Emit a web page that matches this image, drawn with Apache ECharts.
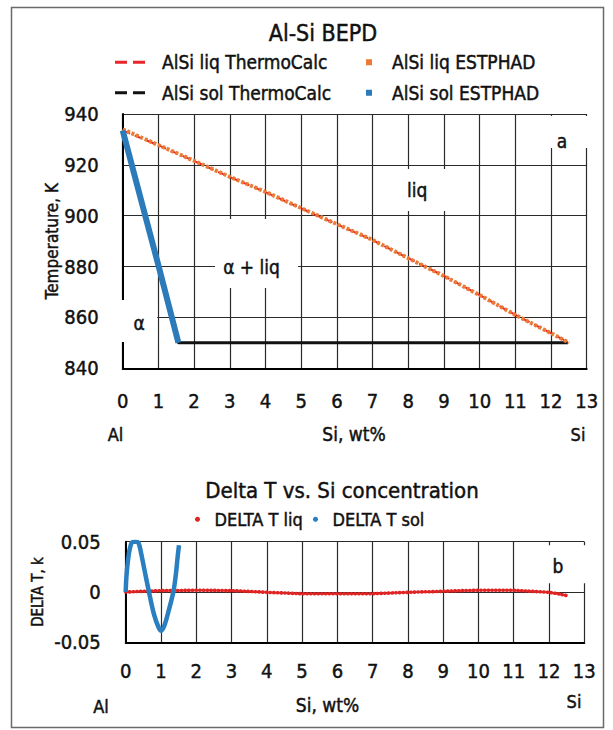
<!DOCTYPE html>
<html><head><meta charset="utf-8">
<script src="https://cdn.jsdelivr.net/npm/echarts@6/dist/echarts.min.js"></script>
<style>html,body{margin:0;padding:0;background:#fff}#c{width:613px;height:730px}</style>
</head><body><div id="c"></div>
<script>
// ---- data ----
const liqX      = [0, 1, 2, 3, 4, 5, 6, 7, 8, 9, 10, 11, 12, 12.5];
const liqEST    = [934.0, 927.8, 921.6, 915.3, 909.4, 903.0, 896.7, 890.5, 883.3, 876.3, 868.8, 861.0, 853.8, 850.1];
const liqTC     = [933.5, 927.7, 921.5, 915.2, 909.3, 902.9, 896.6, 890.4, 883.3, 876.3, 868.8, 861.0, 853.8, 850.1];
const solESTX   = [0, 0.5, 1.0, 1.56];
const solEST    = [933.5, 907, 880.5, 850];
const solTCX    = [0, 0.5, 1.0, 1.56, 12.47];
const solTC     = [933.5, 907, 880.5, 850, 850];

const dLiqX = [0,0.5,1,1.5,2,2.5,3,3.5,4,4.5,5,5.5,6,6.5,7,7.5,8,8.5,9,9.5,10,10.5,11,11.5,12,12.3,12.5];
const dLiq  = [0,0.0007,0.0013,0.0015,0.0017,0.0016,0.0013,0.0006,-0.0003,-0.001,-0.0017,-0.0017,-0.0017,-0.0017,-0.0017,-0.001,-0.0003,0.0002,0.0007,0.0013,0.0017,0.0018,0.0017,0.0007,-0.0003,-0.002,-0.0036];
const dSolX = [0,0.02,0.06,0.11,0.17,0.26,0.36,0.44,0.52,0.66,0.8,0.93,1.01,1.1,1.2,1.35,1.42,1.47,1.51];
const dSol  = [0,0.015,0.03,0.042,0.049,0.05,0.049,0.038,0.024,0,-0.022,-0.035,-0.0385,-0.033,-0.021,0,0.017,0.034,0.0465];

const siTicks = {min: 0, max: 13, step: 1};
const tTicks  = {min: 840, max: 940, step: 20};
const dTicks  = {min: -0.05, max: 0.05, step: 0.05};

// ---- helpers ----
const zip = (xs, ys) => xs.map((x, i) => [x, ys[i]]);
const FONT = "'Liberation Sans Narrow','DejaVu Sans Condensed',sans-serif";
const TXT = '#111';
const GRID = '#2a2a2a';
const BOLDISH = {textBorderColor: '#111', textBorderWidth: 0.45};

const dashIcon = 'path://M0,0h0.01v0.01h-0.01z M42,12h-0.01v-0.01h0.01z M0,4.5h12v3h-12z M18,4.5h12v3h-12z';
const sqIcon = 'path://M0,0h0.01v0.01h-0.01z M24,12h-0.01v-0.01h0.01z M3,3h6v6h-6z';

function ts(size) { return Object.assign({fontSize: size, color: TXT, fontFamily: FONT}, BOLDISH); }
function xAx(gi, margin) {
  return {
    type: 'value', gridIndex: gi, min: siTicks.min, max: siTicks.max, interval: siTicks.step,
    axisLine: {show: true, onZero: false, lineStyle: {color: '#000', width: 2}},
    axisTick: {show: false},
    axisLabel: Object.assign({margin: margin}, ts(20)),
    splitLine: {show: true, lineStyle: {color: GRID, width: 1.2}}
  };
}
function box(x, y, w, h, text, off) {
  return {
    coord: [x, y], symbol: 'rect', symbolSize: [w, h],
    itemStyle: {color: '#fff'},
    label: Object.assign({show: true, formatter: text, offset: off}, ts(19))
  };
}
function textG(x, y, s, size) {
  return {type: 'text', x: x, y: y, z: 10,
    style: {text: s, align: 'center', verticalAlign: 'middle', fontSize: size, fontFamily: FONT, fill: TXT,
            stroke: '#111', lineWidth: 0.45}};
}

const chart = echarts.init(document.getElementById('c'), null, {renderer: 'svg'});
chart.setOption({
  animation: false,
  backgroundColor: '#fff',
  grid: [
    {left: 122.7, right: 26.3, top: 114, height: 254.3},
    {left: 125.7, right: 28.7, top: 541.7, height: 100.6}
  ],
  xAxis: [xAx(0, 23), xAx(1, 19)],
  yAxis: [
    {type: 'value', gridIndex: 0, min: tTicks.min, max: tTicks.max, interval: tTicks.step,
     axisLine: {show: true, onZero: false, lineStyle: {color: '#000', width: 2}},
     axisTick: {show: false},
     axisLabel: Object.assign({margin: 24}, ts(20)),
     splitLine: {show: true, lineStyle: {color: GRID, width: 1.2}},
     name: 'Temperature, K', nameLocation: 'middle', nameGap: 62, nameMoveOverlap: false,
     nameTextStyle: ts(17)},
    {type: 'value', gridIndex: 1, min: dTicks.min, max: dTicks.max, interval: dTicks.step,
     axisLine: {show: true, onZero: false, lineStyle: {color: '#000', width: 2}},
     axisTick: {show: false},
     axisLabel: Object.assign({margin: 25}, ts(20)),
     splitLine: {show: true, lineStyle: {color: GRID, width: 1.2}},
     name: 'DELTA T, k', nameLocation: 'middle', nameGap: 80, nameMoveOverlap: false,
     nameTextStyle: ts(15)}
  ],
  legend: [
    {left: 115, top: 52.5, orient: 'vertical', itemWidth: 42, itemHeight: 12, itemGap: 11, padding: 0,
     itemStyle: {borderWidth: 0},
     data: [{name: 'AlSi liq ThermoCalc', icon: dashIcon}, {name: 'AlSi sol ThermoCalc', icon: dashIcon}],
     textStyle: ts(19)},
    {left: 363, top: 52.5, orient: 'vertical', itemWidth: 24, itemHeight: 12, itemGap: 11, padding: 0,
     itemStyle: {borderWidth: 0},
     data: [{name: 'AlSi liq ESTPHAD', icon: sqIcon}, {name: 'AlSi sol ESTPHAD', icon: sqIcon}],
     textStyle: ts(19)},
    {left: 195, top: 510, itemWidth: 24, itemHeight: 5, padding: 0, icon: 'circle',
     itemStyle: {borderWidth: 0},
     data: ['DELTA T liq'], textStyle: ts(18)},
    {left: 313, top: 510, itemWidth: 24, itemHeight: 5, padding: 0, icon: 'circle',
     itemStyle: {borderWidth: 0},
     data: ['DELTA T sol'], textStyle: ts(18)}
  ],
  graphic: [
    {type: 'rect', shape: {x: 11.5, y: 7.5, width: 592, height: 720}, z: -1, silent: true,
     style: {fill: 'none', stroke: '#6a6a6a', lineWidth: 1.5}},
    textG(323, 33, 'Al-Si BEPD', 23),
    textG(115.5, 434, 'Al', 18),
    textG(354, 434, 'Si, wt%', 19),
    textG(578, 434, 'Si', 18),
    textG(342, 490, 'Delta T vs. Si concentration', 22),
    textG(101, 706, 'Al', 18),
    textG(327.5, 705, 'Si, wt%', 19),
    textG(574, 701, 'Si', 18)
  ],
  series: [
    {name: 'AlSi liq ThermoCalc', type: 'line', xAxisIndex: 0, yAxisIndex: 0, data: zip(liqX, liqTC),
     symbol: 'none', color: '#e8262a', lineStyle: {width: 2, type: [8, 5]}},
    {name: 'AlSi sol ThermoCalc', type: 'line', xAxisIndex: 0, yAxisIndex: 0, data: zip(solTCX, solTC),
     symbol: 'none', color: '#111', lineStyle: {width: 3},
     markPoint: {silent: true, data: [
       box(8.5, 910.1, 56, 42, 'liq', [-9, 0]),
       box(3.75, 885.1, 83, 69, 'α + liq', [-5, 13]),
       box(0.38, 858.6, 42, 42, 'α', [3, 2]),
       box(12.56, 932.9, 52, 32, 'a', [-9, 9])
     ]}},
    {name: 'AlSi liq ESTPHAD', type: 'line', xAxisIndex: 0, yAxisIndex: 0, data: zip(liqX, liqEST),
     symbol: 'none', color: '#ea7a35', lineStyle: {width: 4, type: [3, 1.8]}},
    {name: 'AlSi sol ESTPHAD', type: 'line', xAxisIndex: 0, yAxisIndex: 0, data: zip(solESTX, solEST),
     symbol: 'none', color: '#2b7bba', lineStyle: {width: 6}},
    {name: 'DELTA T liq', type: 'line', xAxisIndex: 1, yAxisIndex: 1, data: zip(dLiqX, dLiq),
     symbol: 'none', color: '#e02424', lineStyle: {width: 3.6, type: [0.5, 3.2], cap: 'round'},
     markPoint: {silent: true, data: [box(12.48, 0.0275, 52, 38, 'b', [-8, 2])]}},
    {name: 'DELTA T sol', type: 'line', xAxisIndex: 1, yAxisIndex: 1, data: zip(dSolX, dSol),
     symbol: 'none', smooth: 0.3, color: '#2a7fc0', lineStyle: {width: 4.5}}
  ]
});
</script></body></html>
